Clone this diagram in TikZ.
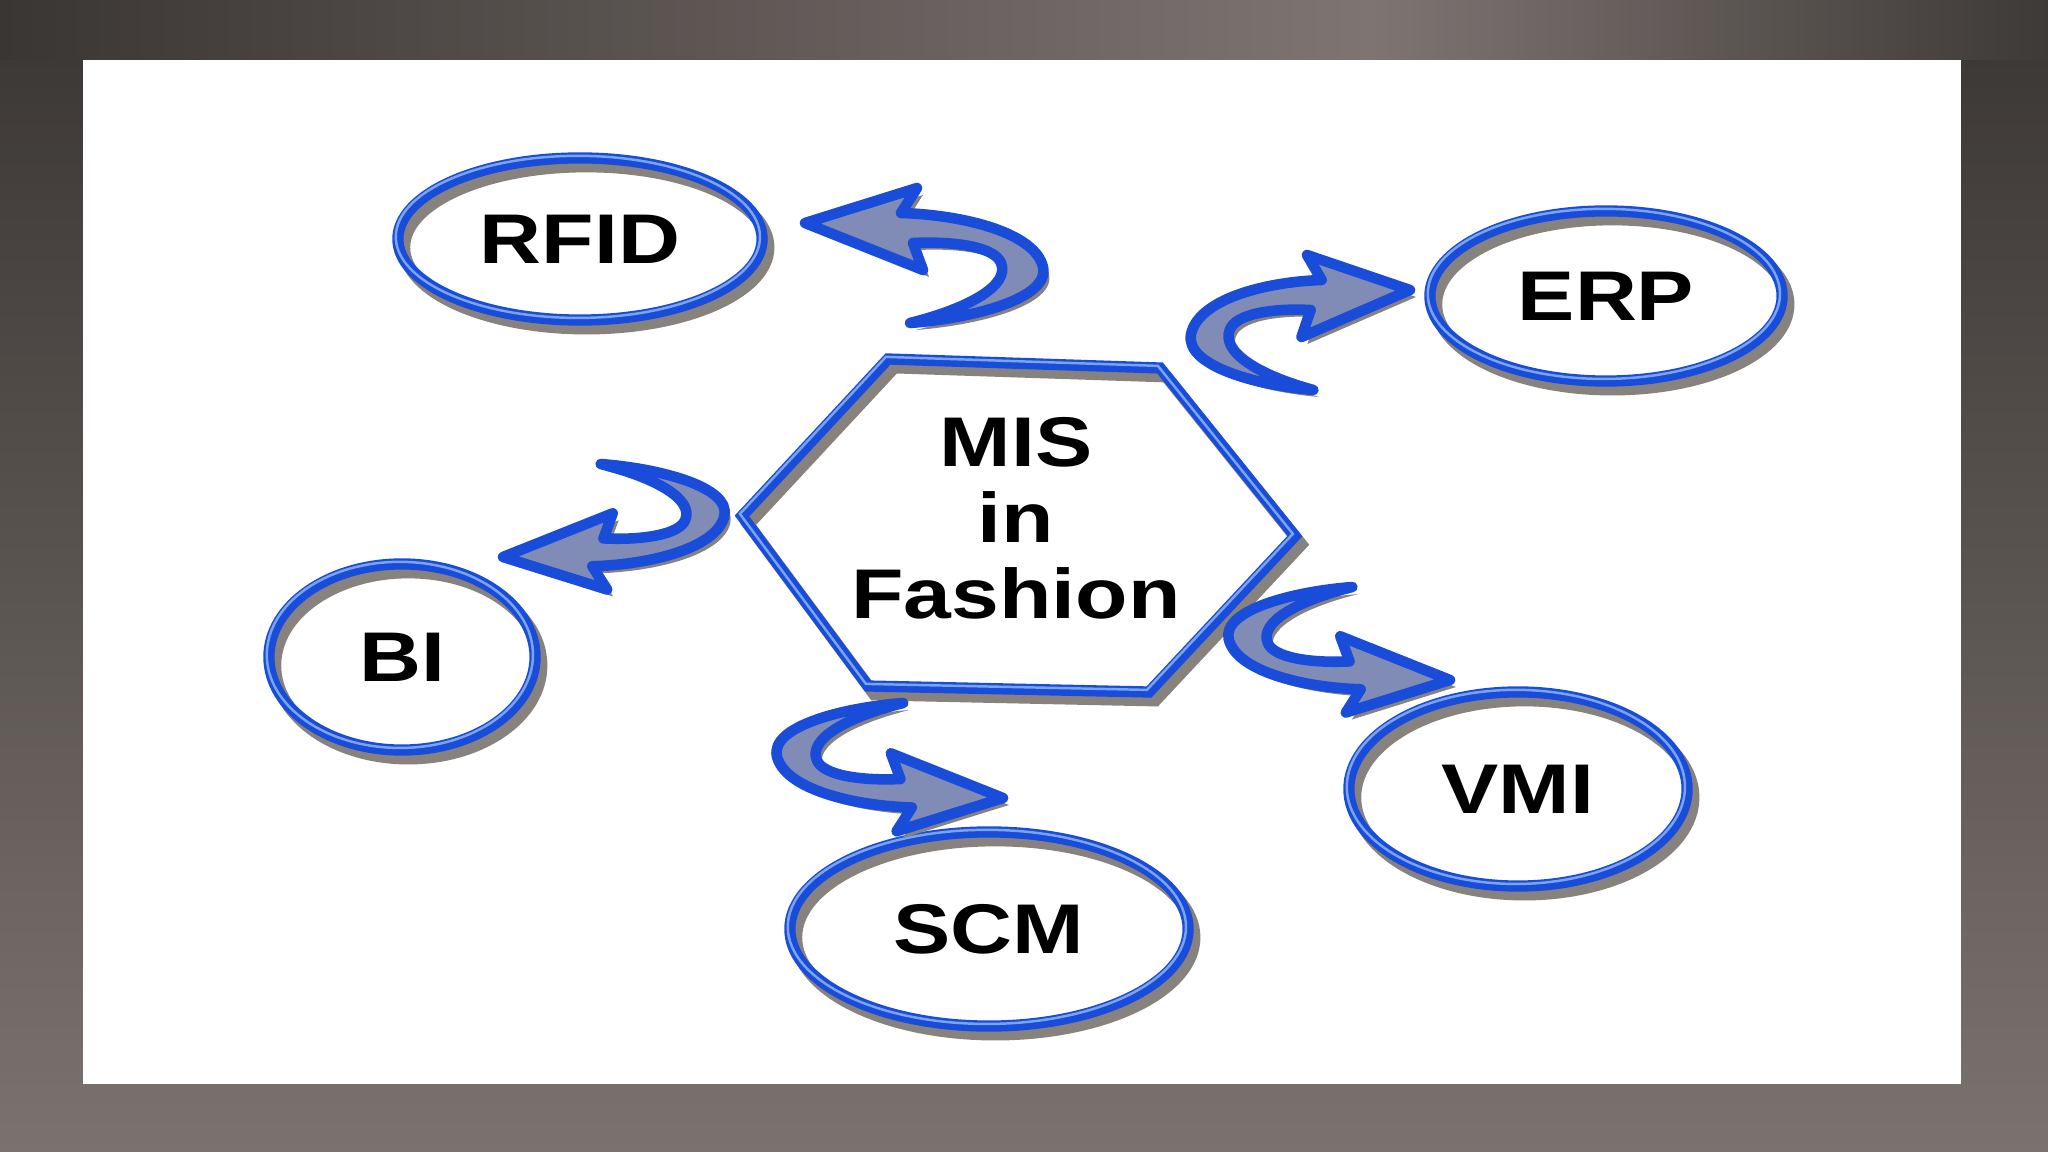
\documentclass[tikz,border=0pt]{standalone}
\usepackage{fontspec}
\newfontfamily\lblfont{Liberation Sans}[FakeStretch=1.22]
\usetikzlibrary{shapes.geometric}

% ------------------------------------------------ mis theme colors
\definecolor{mis_blue}{RGB}{26,76,218}     %#1A4CDA
\definecolor{mis_light}{RGB}{120,165,245}  %#78A5F5
\definecolor{mis_shade}{RGB}{135,130,126}  %#87827E
\definecolor{mis_core}{RGB}{128,140,182}   %#808CB6
\definecolor{bg_dark}{RGB}{58,54,51}       %#3A3633
\definecolor{bg_mid}{RGB}{62,58,55}        %#3E3A37
\definecolor{bg_glow}{RGB}{126,117,115}    %#7E7573
\definecolor{bg_light}{RGB}{122,114,110}   %#7A726E

\newcommand{\lblsize}{\lblfont\bfseries\fontsize{20}{21.6}\selectfont}

% hook shaped arrow, tip at the origin, pointing left
\newcommand{\curlpath}{(0,0) -- (112,-35) -- (96,-10) .. controls (160,-8) and (230,10) .. (238,44) .. controls (245,75) and (170,95) .. (105,100) .. controls (165,85) and (205,62) .. (196,40) .. controls (190,24) and (150,18) .. (108,20) -- (118,47) -- cycle}
\newcommand{\curlarrow}[3]{%
  \begin{scope}[shift={(#1+6,#2+7)},#3] \fill[mis_shade] \curlpath; \end{scope}
  \begin{scope}[shift={(#1,#2)},#3] \filldraw[curl] \curlpath; \end{scope}}

\begin{document}
\begin{tikzpicture}[x=0.01cm,y=-0.01cm,
  rim/.style={draw=mis_blue, line width=3.2pt,
    preaction={draw=mis_shade, line width=3.4pt, transform canvas={xshift=1.8pt,yshift=-2.4pt}},
    postaction={draw=mis_light, line width=0.7pt, transform canvas={xshift=-0.6pt,yshift=0.6pt}}},
  bubble/.style={ellipse, rim, inner sep=0pt, font=\lblsize},
  curl/.style={fill=mis_core, draw=mis_blue, line width=3pt, line join=round}]

% background
  \shade[top color=bg_dark, bottom color=bg_light] (0,0) rectangle (2048,1152);
  \shade[left color=bg_dark, right color=bg_glow] (0,0) rectangle (1370,60);
  \shade[left color=bg_glow, right color=bg_mid] (1370,0) rectangle (2048,60);
  \fill[white] (83,60) rectangle (1961,1084);

% centre hexagon
  \draw[rim, line join=miter] (888,359) -- (1160,368) -- (1295,536) -- (1149,692) -- (868,686) -- (742,516) -- cycle;
  \node[font=\lblsize, align=center] (mis) at (1016,518) {MIS\\in\\Fashion};

% outer topics
  \node[bubble, minimum width=3.64cm, minimum height=1.62cm] (rfid) at (580,239) {RFID};
  \node[bubble, minimum width=3.52cm, minimum height=1.70cm] (erp)  at (1606,296) {ERP};
  \node[bubble, minimum width=2.66cm, minimum height=1.86cm] (bi)   at (402,657) {BI};
  \node[bubble, minimum width=3.38cm, minimum height=1.94cm] (vmi)  at (1518,789) {VMI};
  \node[bubble, minimum width=3.98cm, minimum height=1.94cm] (scm)  at (989,929) {SCM};

% curled arrows
  \curlarrow{805}{223}{}
  \curlarrow{1410}{290}{xscale=-0.92}
  \curlarrow{503}{557}{xscale=0.93,yscale=-0.93}
  \curlarrow{1450}{680}{xscale=-0.93,yscale=-0.93}
  \curlarrow{1003}{798}{xscale=-0.95,yscale=-0.95}

\end{tikzpicture}
\end{document}
